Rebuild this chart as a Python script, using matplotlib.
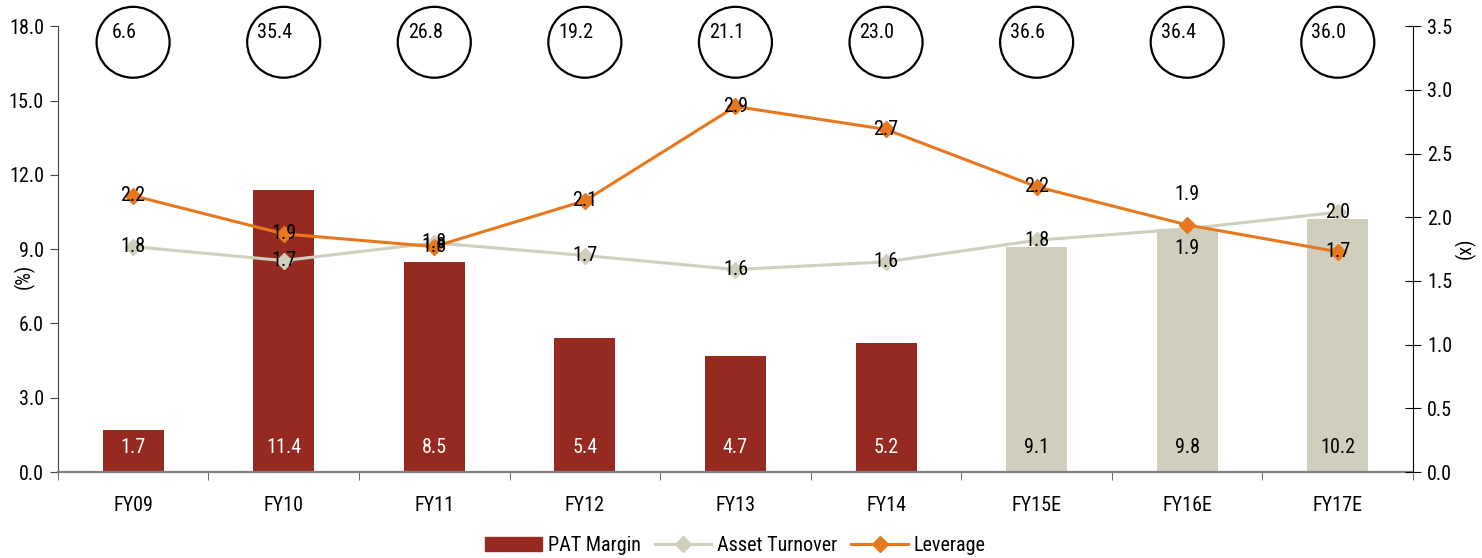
import matplotlib.pyplot as plt
from matplotlib.patches import Ellipse, Patch
from matplotlib.lines import Line2D
from matplotlib.transforms import blended_transform_factory

plt.rcParams['font.family'] = ['Roboto Condensed', 'Archivo Narrow', 'PT Sans Narrow',
                               'Liberation Sans Narrow', 'Roboto', 'DejaVu Sans']
plt.rcParams['font.size'] = 14.5

# data
years = ['FY09', 'FY10', 'FY11', 'FY12', 'FY13', 'FY14', 'FY15E', 'FY16E', 'FY17E']
pat_margin = [1.7, 11.4, 8.5, 5.4, 4.7, 5.2, 9.1, 9.8, 10.2]
asset_turnover = [1.77, 1.66, 1.80, 1.70, 1.59, 1.65, 1.82, 1.91, 2.04]
leverage = [2.17, 1.87, 1.77, 2.13, 2.87, 2.69, 2.24, 1.94, 1.73]
roe = [6.6, 35.4, 26.8, 19.2, 21.1, 23.0, 36.6, 36.4, 36.0]
n_actual = 6  # first six years are actuals, rest estimates

red = '#962A20'
beige = '#D0CEBD'
orange = '#E8781E'

fig = plt.figure(figsize=(14.82, 5.58), dpi=100)
ax = fig.add_axes([0.039, 0.154, 0.9145, 0.799])
ax2 = ax.twinx()

x = list(range(len(years)))
bar_colors = [red if i < n_actual else beige for i in x]
ax.bar(x, pat_margin, width=0.405, color=bar_colors, zorder=2)

# bar labels sit inside the bar near the base
for i, v in enumerate(pat_margin):
    ax.annotate(f'{v:.1f}', (i, 0), xytext=(0, 18), textcoords='offset points',
                ha='center', va='center',
                color='white' if i < n_actual else 'black')

ax2.plot(x, asset_turnover, color=beige, lw=2.2, marker='D', ms=8, zorder=3)
ax2.plot(x, leverage, color=orange, lw=2.2, marker='D', ms=8, zorder=4)

# line labels mostly centred on the markers
at_offset = {7: -14}
lev_offset = {7: 22}
for i, v in enumerate(asset_turnover):
    ax2.annotate(f'{v:.1f}', (i, v), xytext=(0, at_offset.get(i, 0)),
                 textcoords='offset points', ha='center', va='center', zorder=6)
for i, v in enumerate(leverage):
    ax2.annotate(f'{v:.1f}', (i, v), xytext=(0, lev_offset.get(i, 0)),
                 textcoords='offset points', ha='center', va='center', zorder=6)

# ROE circles across the top
trans = blended_transform_factory(ax.transData, ax.transAxes)
for i, v in enumerate(roe):
    ax2.add_patch(Ellipse((i, 0.964), 0.485, 0.159, transform=trans, fill=False,
                          ec='black', lw=1.6, clip_on=False))
    ax2.text(i - 0.06, 0.986, f'{v:.1f}', transform=trans, ha='center', va='center')

ax.set_xlim(-0.5, 8.5)
ax.set_ylim(0, 18)
ax.set_yticks([0, 3, 6, 9, 12, 15, 18])
ax.set_yticklabels([f'{t:.1f}' for t in [0, 3, 6, 9, 12, 15, 18]])
ax2.set_ylim(0, 3.5)
ax2.set_yticks([0, 0.5, 1.0, 1.5, 2.0, 2.5, 3.0, 3.5])
ax2.set_yticklabels([f'{t:.1f}' for t in [0, 0.5, 1.0, 1.5, 2.0, 2.5, 3.0, 3.5]])

ax.set_xticks(x)
ax.set_xticklabels(years)
ax.set_xticks([i + 0.5 for i in range(-1, len(years))], minor=True)
ax.tick_params(axis='x', which='major', length=0, pad=17)
ax.tick_params(axis='x', which='minor', length=6, direction='out', color='#555555')
ax.tick_params(axis='y', length=6, direction='out', color='#444444', pad=4)
ax2.tick_params(axis='y', length=12, direction='inout', color='black', pad=4)

for s in ['top', 'right']:
    ax.spines[s].set_visible(False)
for s in ['top', 'left', 'bottom']:
    ax2.spines[s].set_visible(False)
ax.spines['bottom'].set_color('#808080')
ax.spines['bottom'].set_linewidth(1.6)
ax.spines['left'].set_color('#444444')
ax2.spines['right'].set_color('black')

ax.set_ylabel('(%)')
ax.yaxis.set_label_coords(-0.017, 0.44)
ax2.set_ylabel('(x)', rotation=90)
ax2.yaxis.set_label_coords(1.031, 0.502)

handles = [
    Patch(color=red, label='PAT Margin'),
    Line2D([], [], color=beige, lw=2.2, marker='D', ms=8, label='Asset Turnover'),
    Line2D([], [], color=orange, lw=2.2, marker='D', ms=8, label='Leverage'),
]
ax.legend(handles=handles, loc='center', bbox_to_anchor=(0.5, -0.165), ncol=3,
          frameon=False, handlelength=2.8, handletextpad=0.3, columnspacing=0.7)

plt.savefig('out.png', dpi=100)
